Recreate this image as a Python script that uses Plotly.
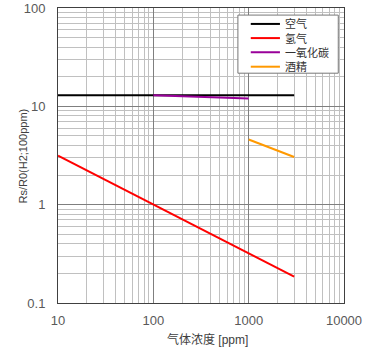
import plotly.graph_objects as go

# Data
air_x = [10, 3000]
air_y = [13.0, 13.0]
h2_x = [10, 100, 1000, 3000]
h2_y = [3.16, 1.0, 0.316, 0.185]
co_x = [100, 1000]
co_y = [13.0, 12.0]
alc_x = [1000, 3000]
alc_y = [4.6, 3.05]

names = ["空气", "氢气", "一氧化碳", "酒精"]
colors = ["#000000", "#ff0000", "#990099", "#ff9900"]

x_tickvals = [10, 100, 1000, 10000]
x_ticktext = ["10", "100", "1000", "10000"]
y_tickvals = [0.1, 1, 10, 100]
y_ticktext = ["0.1", "1", "10", "100"]
x_minor = [m * d for d in [10, 100, 1000] for m in range(2, 10)]
y_minor = [m * d for d in [0.1, 1, 10] for m in range(2, 10)]

x_title = "气体浓度 [ppm]"
y_title = "Rs/R0(H2;100ppm)"

font_family = "Liberation Sans, Arial, Noto Sans CJK SC"


def axis_common(minor_vals, standoff):
    return dict(
        type="log", showgrid=True, gridcolor="#7f7f7f", gridwidth=1,
        showline=True, linecolor="#404040", linewidth=1, mirror=True,
        ticks="", zeroline=False, automargin=False, layer="below traces",
        ticklabelstandoff=standoff,
        tickfont=dict(size=13, color="#595959", family=font_family),
        minor=dict(showgrid=True, gridcolor="#c0c0c0", gridwidth=1, ticks="",
                   tickmode="array", tickvals=minor_vals),
    )


fig = go.Figure()
for xs, ys, nm, c in zip([air_x, h2_x, co_x, alc_x], [air_y, h2_y, co_y, alc_y], names, colors):
    fig.add_trace(go.Scatter(x=xs, y=ys, mode="lines", name=nm, showlegend=False,
                             line=dict(color=c, width=2)))

# Manual compact legend (paper coordinates)
shapes = [dict(type="rect", xref="paper", yref="paper", x0=0.629, x1=0.980,
               y0=0.779, y1=0.976, line=dict(color="#777777", width=1),
               fillcolor="white", layer="above")]
annotations = []
leg_y = [0.946, 0.898, 0.850, 0.801]
for nm, c, ly in zip(names, colors, leg_y):
    shapes.append(dict(type="line", xref="paper", yref="paper", x0=0.674, x1=0.776,
                       y0=ly, y1=ly, line=dict(color=c, width=2), layer="above"))
    annotations.append(dict(text=nm, xref="paper", yref="paper", x=0.785, y=ly,
                            xanchor="left", yanchor="middle", showarrow=False,
                            font=dict(size=11, color="#333333", family=font_family)))

annotations.append(dict(text=x_title, xref="paper", yref="paper", x=0.524, y=-0.125,
                        xanchor="center", yanchor="middle", showarrow=False,
                        font=dict(size=12, color="#404040", family=font_family)))
annotations.append(dict(text=y_title, xref="paper", yref="paper", x=-0.1224, y=0.5,
                        xanchor="center", yanchor="middle", showarrow=False, textangle=-90,
                        font=dict(size=11, color="#404040", family=font_family)))

fig.update_layout(
    width=381, height=356,
    margin=dict(l=58, r=37, t=8, b=53),
    paper_bgcolor="white", plot_bgcolor="white",
    font=dict(family=font_family, color="#404040"),
    xaxis=dict(range=[1, 4], tickvals=x_tickvals, ticktext=x_ticktext,
               **axis_common(x_minor, 5)),
    yaxis=dict(range=[-1, 2], tickvals=y_tickvals, ticktext=y_ticktext,
               **axis_common(y_minor, 9)),
    shapes=shapes,
    annotations=annotations,
    showlegend=False,
)

fig.write_html("out.html", config={"displayModeBar": False},
               post_script="document.body.style.margin='0';")
